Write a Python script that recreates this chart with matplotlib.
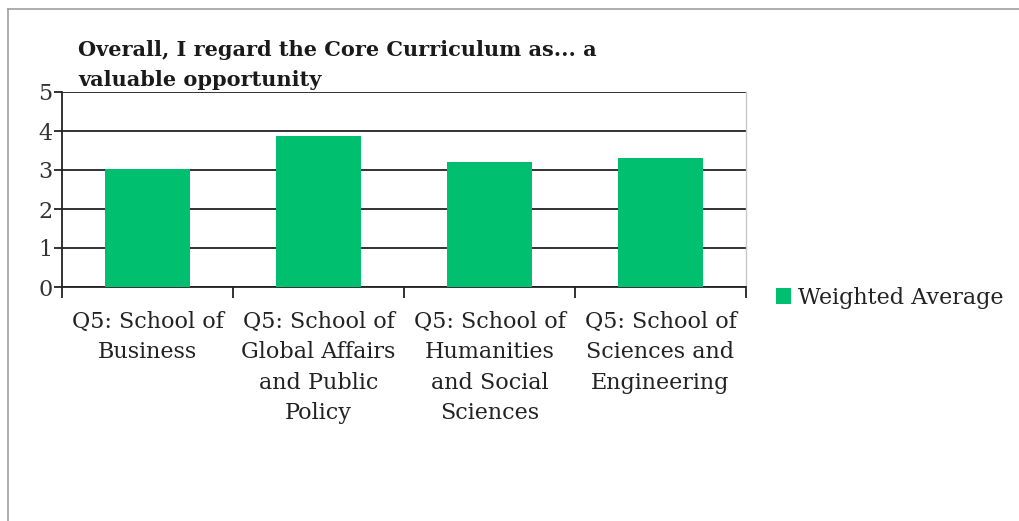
import matplotlib.pyplot as plt
import matplotlib.lines as mlines
import numpy as np

categories = ["Q5: School of\nBusiness",
              "Q5: School of\nGlobal Affairs\nand Public\nPolicy",
              "Q5: School of\nHumanities\nand Social\nSciences",
              "Q5: School of\nSciences and\nEngineering"]
weighted_avg = [3.03, 3.87, 3.2, 3.31]
yticks = [0, 1, 2, 3, 4, 5]

plt.rcParams['font.family'] = ['DejaVu Serif']
W, H = 1019, 521
fig = plt.figure(figsize=(W / 100, H / 100), dpi=100)
ax = fig.add_axes([62 / W, 1 - 287 / H, (746 - 62) / W, (287 - 92) / H])

x = np.arange(len(categories))
bars = ax.bar(x, weighted_avg, width=0.5, color='#00bf6f', zorder=3, label='Weighted Average')

ax.set_xlim(-0.5, len(categories) - 0.5)
ax.set_ylim(0, 5)
ax.set_yticks(yticks)
ax.yaxis.grid(True, color='#222222', linewidth=1.3, zorder=0)
ax.tick_params(axis='y', length=6, width=1.3, color='#222222', labelsize=16, pad=1, labelcolor='#333333')

# category boundary ticks under the axis
ax.set_xticks(np.arange(-0.5, len(categories), 1.0))
ax.set_xticklabels([])
ax.set_xticks(x, minor=True)
ax.set_xticklabels(categories, minor=True, fontsize=16, linespacing=1.5, va='top', color='#222222')
ax.tick_params(axis='x', which='major', length=8, width=1.3, color='#222222')
ax.tick_params(axis='x', which='minor', length=0, pad=17)

for s in ['left', 'bottom']:
    ax.spines[s].set_color('#222222')
    ax.spines[s].set_linewidth(1.3)
ax.spines['top'].set_visible(False)
ax.spines['right'].set_color('#c8c8c8')
ax.spines['right'].set_linewidth(1.0)

fig.text(78 / W, 1 - 65 / H, "Overall, I regard the Core Curriculum as... a\nvaluable opportunity",
         fontsize=15, fontweight='bold', ha='left', va='center', linespacing=1.6, color='#1a1a1a')

fig.legend(handles=[bars], loc='center left', bbox_to_anchor=(767 / W, 1 - 298 / H),
           frameon=False, fontsize=16, handlelength=0.7, handleheight=0.7,
           handletextpad=0.3, borderaxespad=0, labelcolor='#222222')

# outer frame (top and left edges)
fig.add_artist(mlines.Line2D([8 / W, 1], [1 - 9 / H, 1 - 9 / H], color='#a0a0a0', linewidth=1.2))
fig.add_artist(mlines.Line2D([8 / W, 8 / W], [0, 1 - 9 / H], color='#a0a0a0', linewidth=1.2))

fig.savefig('out.png', dpi=100)
